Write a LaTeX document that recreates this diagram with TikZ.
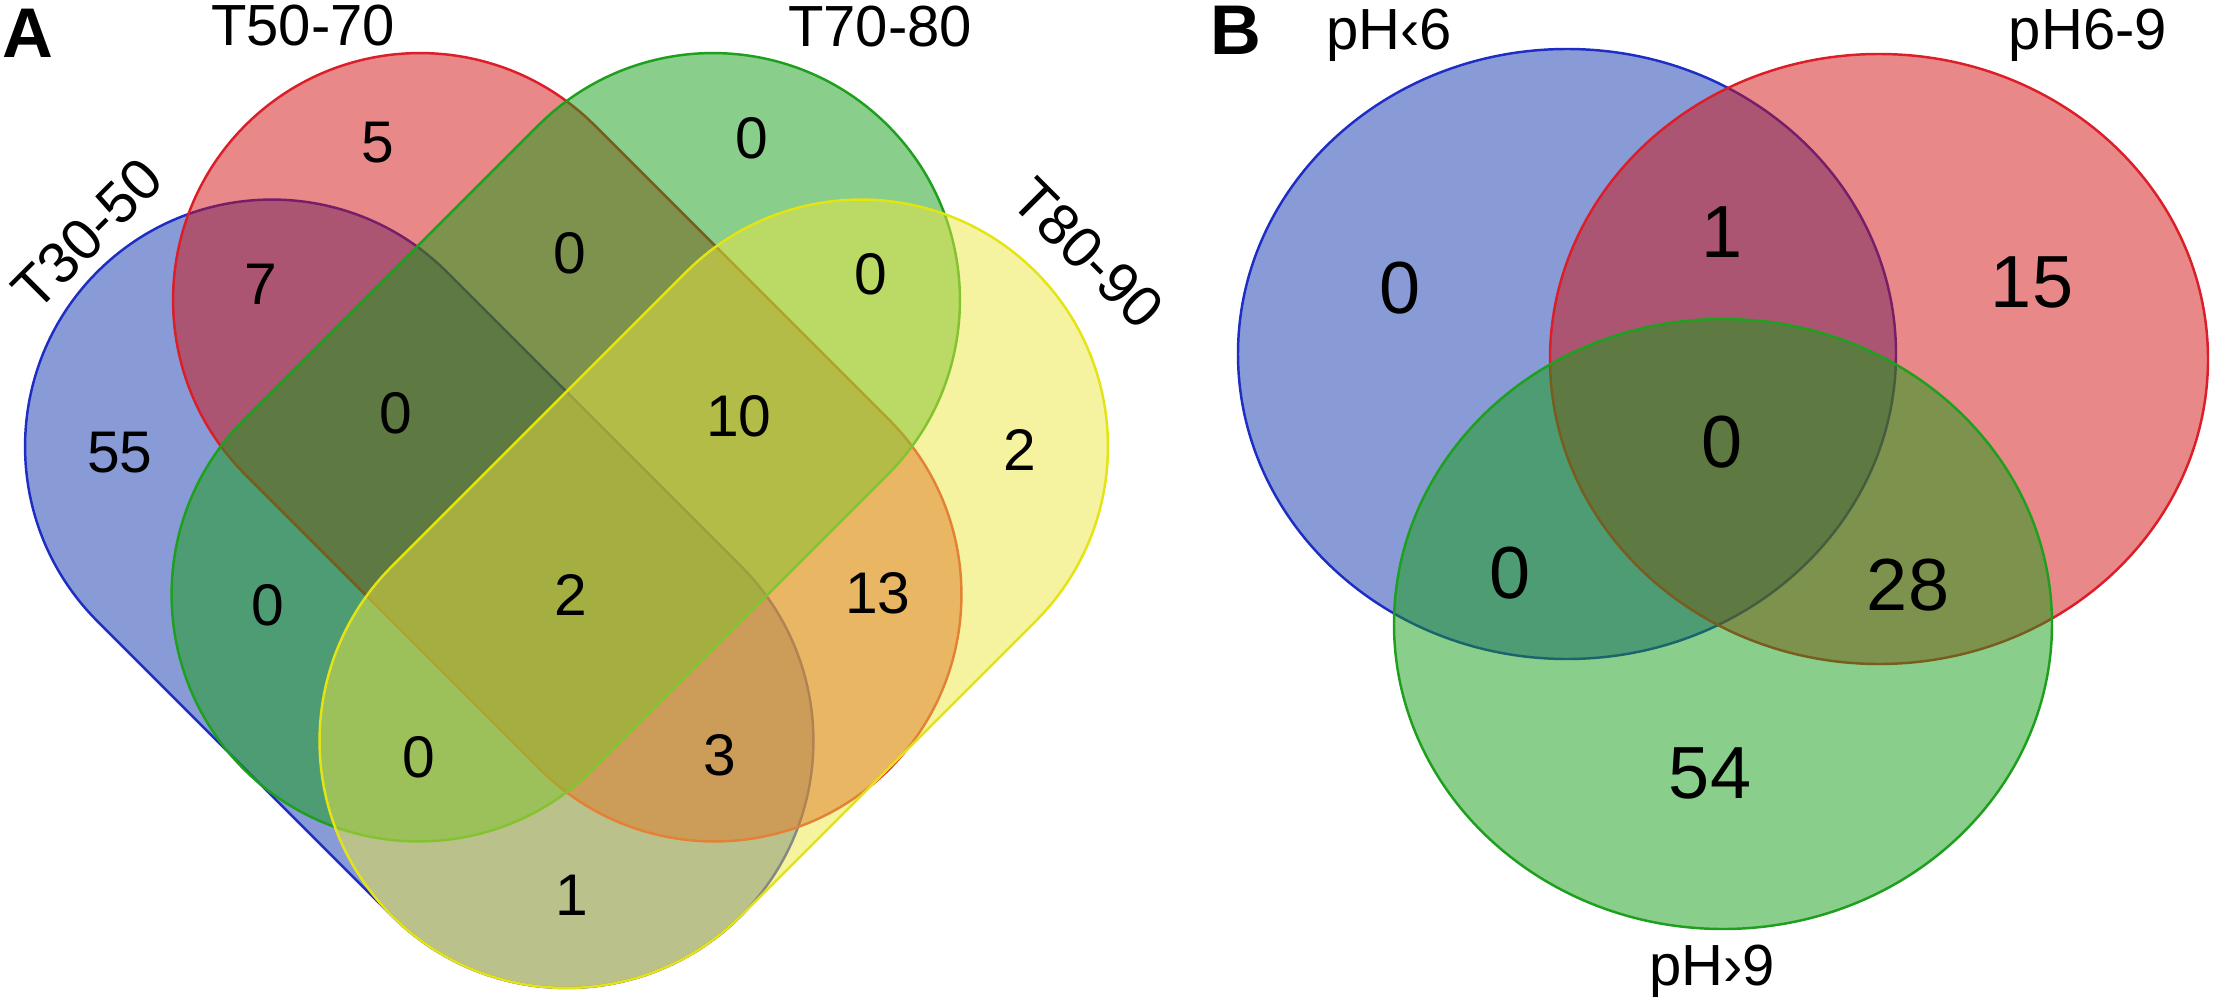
\documentclass[tikz,border=0pt]{standalone}
\usepackage{fontspec}
\setmainfont{Liberation Sans}
\usetikzlibrary{positioning}
\definecolor{vblue}{RGB}{19,55,173}
\definecolor{vred}{RGB}{209,17,17}
\definecolor{vgreen}{RGB}{19,157,21}
\definecolor{vyellow}{RGB}{235,231,65}
\definecolor{lblue}{RGB}{30,45,195}
\definecolor{lred}{RGB}{220,30,40}
\definecolor{lgreen}{RGB}{30,160,30}
\definecolor{lyellow}{RGB}{228,228,20}
\tikzset{
  venn/.style={line width=0.7pt, fill opacity=0.5},
  setblue/.style={venn, draw=lblue, fill=vblue},
  setred/.style={venn, draw=lred, fill=vred},
  setgreen/.style={venn, draw=lgreen, fill=vgreen},
  setyellow/.style={venn, draw=lyellow, fill=vyellow},
  capsule/.style={rounded corners=2.47cm},
  num/.style={font=\fontsize{16.7}{20}\selectfont, inner sep=0pt},
  bignum/.style={font=\fontsize{21}{25}\selectfont, inner sep=0pt},
  setname/.style={font=\fontsize{16.5}{20}\selectfont, inner sep=0pt},
  panel/.style={font=\fontsize{20}{24}\selectfont\bfseries, inner sep=0pt}
}

\begin{document}
\begin{tikzpicture}[x=0.01cm, y=-0.01cm]
        \useasboundingbox (0,0) rectangle (2217,1006);

        % A
        \draw[setblue, capsule, rotate around={-45:(419.25,593.75)}] (-36,346.75) rectangle (874.5,840.75);
        \draw[setred, capsule, rotate around={-45:(567.25,447.25)}] (112,200.25) rectangle (1022.5,694.25);
        \draw[setgreen, capsule, rotate around={45:(565.75,447.25)}] (110.5,200.25) rectangle (1021,694.25);
        \draw[setyellow, capsule, rotate around={45:(713.75,593.75)}] (258.5,346.75) rectangle (1169,840.75);

        \node[panel] (pA) at (28,33) {A};
        \node[setname] (t3050) at (87,234) [rotate=45] {T30-50};
        \node[setname] (t5070) at (303,26) {T50-70};
        \node[setname] (t7080) at (880,27) {T70-80};
        \node[setname] (t8090) at (1088,253) [rotate=-45] {T80-90};

        \node[num] (a1000) at (120,453) {55};
        \node[num] (a0100) at (378,143) {5};
        \node[num] (a0010) at (752,138) {0};
        \node[num] (a0001) at (1020,450) {2};
        \node[num] (a1100) at (261,284) {7};
        \node[num] (a0110) at (570,253) {0};
        \node[num] (a0011) at (871,274) {0};
        \node[num] (a1110) at (396,413) {0};
        \node[num] (a0111) at (739,416) {10};
        \node[num] (a1010) at (268,605) {0};
        \node[num] (a1111) at (571,595) {2};
        \node[num] (a0101) at (878,593) {13};
        \node[num] (a1011) at (419,757) {0};
        \node[num] (a1101) at (720,755) {3};
        \node[num] (a1001) at (572,895) {1};

        % B
        \draw[setblue] (1567,354) ellipse [x radius=329, y radius=305];
        \draw[setred] (1879,359) ellipse [x radius=329, y radius=305];
        \draw[setgreen] (1723,624) ellipse [x radius=329, y radius=305];

        \node[panel] (pB) at (1236,30) {B};
        \node[setname, anchor=base] (acid) at (1389,50) {pH‹6};
        \node[setname, anchor=base] (neutral) at (2088,50) {pH6-9};
        \node[setname, anchor=base] (alkali) at (1712,985) {pH›9};

        \node[bignum] (b100) at (1400,288) {0};
        \node[bignum] (b110) at (1722,232) {1};
        \node[bignum] (b010) at (2032,282) {15};
        \node[bignum] (b111) at (1722,442) {0};
        \node[bignum] (b101) at (1510,573) {0};
        \node[bignum] (b011) at (1908,585) {28};
        \node[bignum] (b001) at (1710,773) {54};
\end{tikzpicture}
\end{document}
